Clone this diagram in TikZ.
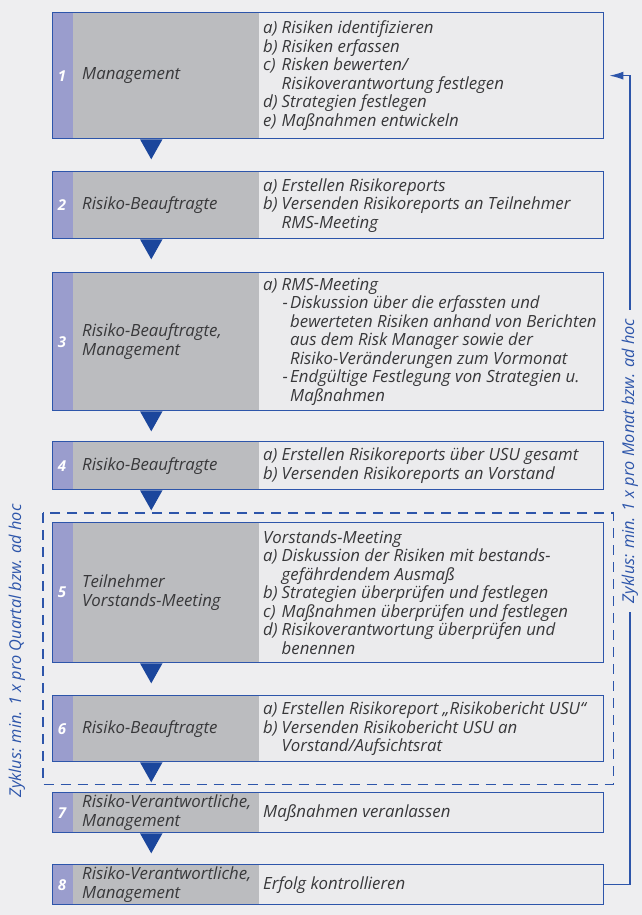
\documentclass[tikz,border=0pt]{standalone}
\usepackage{fontspec}
\usepackage{tikz}
\usetikzlibrary{arrows.meta}

\newfontfamily\boxfont{Open Sans}
\definecolor{pagebg}{HTML}{EEEEF0}
\definecolor{cellbg}{HTML}{EBEBED}
\definecolor{stripfill}{HTML}{9A9DCD}
\definecolor{rolefill}{HTML}{BBBCBF}
\definecolor{frame}{HTML}{2D55AA}
\definecolor{pointer}{HTML}{1B469C}
\definecolor{ink}{HTML}{38383A}

\newcommand{\itemlbl}[1]{\makebox[18.5pt][l]{#1}}
\newcommand{\itemcont}{\hspace*{18.5pt}}
\newcommand{\subdash}{\hspace*{19.5pt}\makebox[7.5pt][l]{-}}
\newcommand{\subcont}{\hspace*{27pt}}

\tikzset{
  stepbox/.style={draw=frame, line width=1.3pt, fill=cellbg, anchor=north west,
    minimum width=551pt, inner sep=0pt,
    path picture={
      \fill[stripfill] (path picture bounding box.north west) rectangle ([xshift=20pt]path picture bounding box.south west);
      \fill[rolefill] ([xshift=20pt]path picture bounding box.north west) rectangle ([xshift=206pt]path picture bounding box.south west);
    }},
  numtext/.style={text=white, font=\boxfont\bfseries\itshape\fontsize{15}{17}\selectfont, inner sep=0pt},
  roletext/.style={anchor=west, align=left, text=ink, inner xsep=10pt, inner ysep=0pt,
    font=\boxfont\itshape\fontsize{16.8}{18.5}\selectfont},
  desctext/.style={anchor=west, align=left, text=ink, inner xsep=5pt, inner ysep=0pt,
    font=\boxfont\itshape\fontsize{16.8}{18.5}\selectfont},
  cycletext/.style={rotate=90, text=frame, inner xsep=9pt, inner ysep=0pt,
    font=\boxfont\itshape\fontsize{16.3}{18}\selectfont},
  cycleline/.style={draw=frame, line width=1.3pt},
  quartalbox/.style={draw=frame, line width=1.3pt, dash pattern=on 10pt off 7pt}
}

\begin{document}
\begin{tikzpicture}[x=1pt, y=-1pt]
  \fill[pagebg] (0,0) rectangle (642,915);
  \useasboundingbox (0,0) rectangle (642,915);

  % step 1
  \node[stepbox, minimum height=126pt] (s1) at (52,12) {};
  \node[numtext] (n1) at ([xshift=10pt]s1.west) {1};
  \node[roletext] (r1) at ([xshift=20pt]s1.west) {Management};
  \node[desctext] (d1) at ([xshift=206pt]s1.west) {\itemlbl{a)}Risiken identifizieren\\
    \itemlbl{b)}Risiken erfassen\\
    \itemlbl{c)}Risken bewerten/\\
    \itemcont Risikoverantwortung festlegen\\
    \itemlbl{d)}Strategien festlegen\\
    \itemlbl{e)}Maßnahmen entwickeln};

  % step 2
  \node[stepbox, minimum height=67pt] (s2) at (52,171) {};
  \node[numtext] (n2) at ([xshift=10pt]s2.west) {2};
  \node[roletext] (r2) at ([xshift=20pt]s2.west) {Risiko-Beauftragte};
  \node[desctext] (d2) at ([xshift=206pt]s2.west) {\itemlbl{a)}Erstellen Risikoreports\\
    \itemlbl{b)}Versenden Risikoreports an Teilnehmer\\
    \itemcont RMS-Meeting};

  % step 3
  \node[stepbox, minimum height=138pt] (s3) at (52,272) {};
  \node[numtext] (n3) at ([xshift=10pt]s3.west) {3};
  \node[roletext] (r3) at ([xshift=20pt]s3.west) {Risiko-Beauftragte,\\Management};
  \node[desctext] (d3) at ([xshift=206pt]s3.west) {\itemlbl{a)}RMS-Meeting\\
    \subdash Diskussion über die erfassten und\\
    \subcont bewerteten Risiken anhand von Berichten\\
    \subcont aus dem Risk Manager sowie der\\
    \subcont Risiko-Veränderungen zum Vormonat\\
    \subdash Endgültige Festlegung von Strategien u.\\
    \subcont Maßnahmen};

  % step 4
  \node[stepbox, minimum height=48pt] (s4) at (52,441) {};
  \node[numtext] (n4) at ([xshift=10pt]s4.west) {4};
  \node[roletext] (r4) at ([xshift=20pt]s4.west) {Risiko-Beauftragte};
  \node[desctext] (d4) at ([xshift=206pt]s4.west) {\itemlbl{a)}Erstellen Risikoreports über USU gesamt\\
    \itemlbl{b)}Versenden Risikoreports an Vorstand};

  % step 5
  \node[stepbox, minimum height=140pt] (s5) at (52,522) {};
  \node[numtext] (n5) at ([xshift=10pt]s5.west) {5};
  \node[roletext] (r5) at ([xshift=20pt]s5.west) {Teilnehmer\\Vorstands-Meeting};
  \node[desctext] (d5) at ([xshift=206pt]s5.west) {Vorstands-Meeting\\
    \itemlbl{a)}Diskussion der Risiken mit bestands-\\
    \itemcont gefährdendem Ausmaß\\
    \itemlbl{b)}Strategien überprüfen und festlegen\\
    \itemlbl{c)}Maßnahmen überprüfen und festlegen\\
    \itemlbl{d)}Risikoverantwortung überprüfen und\\
    \itemcont benennen};

  % step 6
  \node[stepbox, minimum height=66pt] (s6) at (52,695) {};
  \node[numtext] (n6) at ([xshift=10pt]s6.west) {6};
  \node[roletext] (r6) at ([xshift=20pt]s6.west) {Risiko-Beauftragte};
  \node[desctext] (d6) at ([xshift=206pt]s6.west) {\itemlbl{a)}Erstellen Risikoreport „Risikobericht USU“\\
    \itemlbl{b)}Versenden Risikobericht USU an\\
    \itemcont Vorstand/Aufsichtsrat};

  % step 7
  \node[stepbox, minimum height=40pt] (s7) at (52,792) {};
  \node[numtext] (n7) at ([xshift=10pt]s7.west) {7};
  \node[roletext] (r7) at ([xshift=20pt]s7.west) {Risiko-Verantwortliche,\\Management};
  \node[desctext] (d7) at ([xshift=206pt]s7.west) {Maßnahmen veranlassen};

  % step 8
  \node[stepbox, minimum height=40pt] (s8) at (52,864) {};
  \node[numtext] (n8) at ([xshift=10pt]s8.west) {8};
  \node[roletext] (r8) at ([xshift=20pt]s8.west) {Risiko-Verantwortliche,\\Management};
  \node[desctext] (d8) at ([xshift=206pt]s8.west) {Erfolg kontrollieren};

  % pointers between the steps
  \foreach \i in {1,...,7}
    \fill[pointer] ([xshift=88pt]s\i.south west) -- ++(22.5,0) -- ++(-11.25,20) -- cycle;

  % quarterly cycle
  \draw[quartalbox] ([shift={(-9,-9)}]s5.north west) rectangle ([shift={(9,22)}]s6.south east);
  \node[cycletext] (quartal) at (17,651) {Zyklus: min. 1 x pro Quartal bzw. ad hoc};

  % monthly cycle
  \node[cycletext] (monat) at (630,461) {Zyklus: min. 1 x pro Monat bzw. ad hoc};
  \draw[cycleline] (s8.east) -| (monat.west);
  \draw[cycleline, -{Latex[length=14pt,width=8pt]}, shorten >=5pt] (monat.east) |- (s1.east);
\end{tikzpicture}
\end{document}
